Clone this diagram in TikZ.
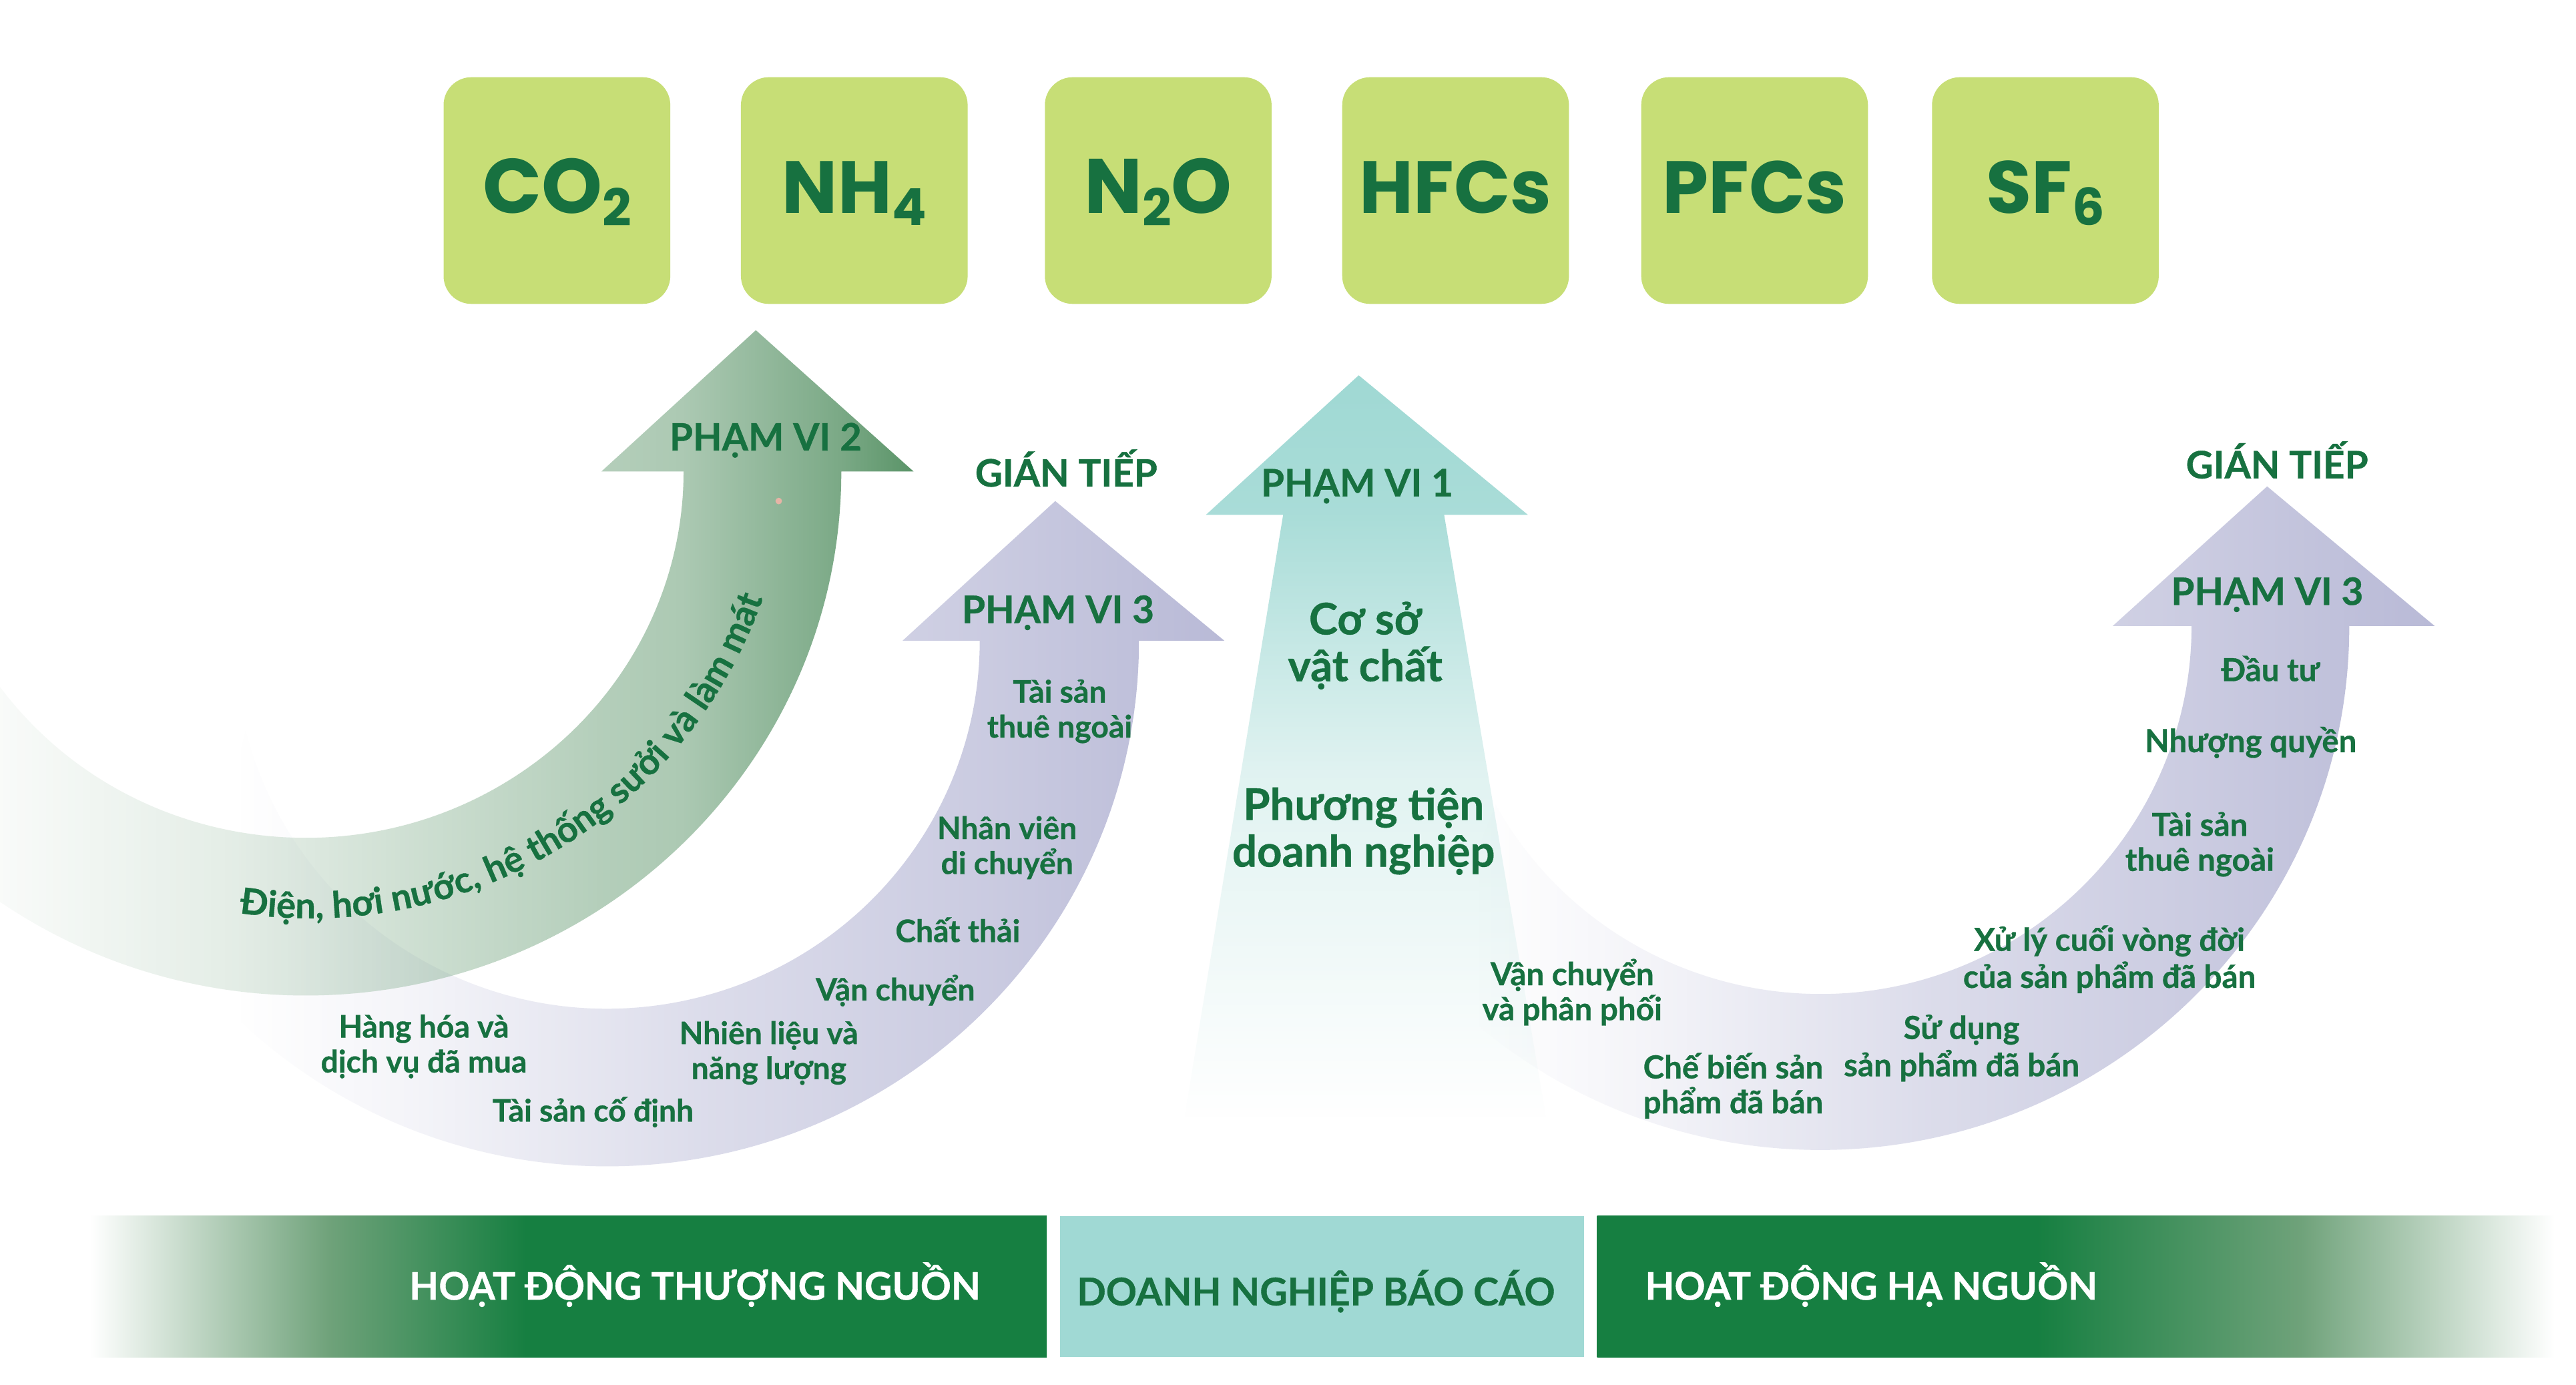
\documentclass[tikz,border=0pt]{standalone}
\usepackage{fontspec}
\setmainfont{Lato}[BoldFeatures={FakeBold=0.7}]
\newfontfamily\ghgfont{Poppins}
\usetikzlibrary{fadings,decorations.text}
\definecolor{dkgreen}{HTML}{177140}
\definecolor{barGreen}{HTML}{167F41}
\definecolor{teal}{HTML}{A0D9D4}
\definecolor{lime}{HTML}{C7DE76}
\definecolor{lav}{HTML}{B9BAD7}
\definecolor{sage}{HTML}{5A9468}
\definecolor{midL}{HTML}{6FA27A}
\definecolor{dotpink}{HTML}{E6B4A6}
% opacity masks: white = opaque, black = clear; 25bp..75bp span the filled shape
\pgfdeclarehorizontalshading{maskGreen}{100bp}{rgb(0bp)=(.03,.03,.03);rgb(25bp)=(.03,.03,.03);rgb(34bp)=(.12,.12,.12);rgb(41.7bp)=(.2,.2,.2);rgb(57.9bp)=(.45,.45,.45);rgb(62.4bp)=(.5,.5,.5);rgb(71bp)=(.8,.8,.8);rgb(75bp)=(1,1,1);rgb(100bp)=(1,1,1)}
\pgfdeclarehorizontalshading{maskLav}{100bp}{rgb(0bp)=(0,0,0);rgb(27.5bp)=(0,0,0);rgb(35.8bp)=(.15,.15,.15);rgb(50bp)=(.5,.5,.5);rgb(63.5bp)=(.75,.75,.75);rgb(75bp)=(1,1,1);rgb(100bp)=(1,1,1)}
\pgfdeclareverticalshading{maskTeal}{100bp}{rgb(0bp)=(0,0,0);rgb(25bp)=(0,0,0);rgb(33.8bp)=(.12,.12,.12);rgb(48.2bp)=(.32,.32,.32);rgb(58.2bp)=(.65,.65,.65);rgb(65.6bp)=(.9,.9,.9);rgb(75bp)=(1,1,1);rgb(100bp)=(1,1,1)}
\pgfdeclarefading{fadeGreen}{\pgfuseshading{maskGreen}}
\pgfdeclarefading{fadeLav}{\pgfuseshading{maskLav}}
\pgfdeclarefading{fadeTeal}{\pgfuseshading{maskTeal}}
\pgfdeclarehorizontalshading{barLeft}{100bp}{color(0bp)=(white);color(25.4bp)=(white);color(37.8bp)=(midL);color(48bp)=(barGreen);color(100bp)=(barGreen)}
\pgfdeclarehorizontalshading{barRight}{100bp}{color(0bp)=(barGreen);color(47.9bp)=(barGreen);color(61.6bp)=(midL);color(74.8bp)=(white);color(100bp)=(white)}
\newcommand{\fs}[1]{\fontsize{#1}{#1}\selectfont}
\newcommand{\sbs}[1]{\raisebox{-.16em}{\fontsize{31}{31}\selectfont #1}}
\tikzset{
  ghg/.style={rounded corners=17pt,fill=lime,minimum width=138pt,minimum height=138pt,inner sep=0pt,text=dkgreen,text height=38pt,text depth=10pt,font=\ghgfont\bfseries\fs{47}},
  ghgn/.style={ghg,font=\ghgfont\bfseries\fs{45}},
  small/.style={text=dkgreen,font=\bfseries\fs{18.8},align=center,inner sep=0pt},
  smallb/.style={text=dkgreen,font=\bfseries\fs{19.3},align=center,inner sep=0pt},
  mid/.style={text=dkgreen,font=\bfseries\fs{26.5},align=center,inner sep=0pt},
  head/.style={text=dkgreen,font=\bfseries\fs{23},inner sep=0pt},
  barlab/.style={font=\bfseries\fs{23.2},inner sep=0pt},
  bar/.style={minimum height=86pt,inner sep=0pt,anchor=north west}
}
\begin{document}
\begin{tikzpicture}[x=1pt,y=-1pt]
\useasboundingbox (0,0) rectangle (1568,843);
\clip (0,0) rectangle (1568,843);
\fill[white] (0,0) rectangle (1568,843);
% gases
\node[ghg] (co2) at (339,116) {CO\sbs{2}};
\node[ghgn] (nh4) at (520,116) {NH\sbs{4}};
\node[ghg] (n2o) at (705,116) {N\sbs{2}O};
\node[ghgn] (hfc) at (886,116) {HFCs};
\node[ghgn] (pfc) at (1068,116) {PFCs};
\node[ghgn] (sf6) at (1245,116) {SF\sbs{6}};
% left scope 3 arrow
\fill[lav,path fading=fadeLav]
  (643,305) -- (746,390) -- (694,390)
  arc[start angle=0,end angle=-142,x radius=324pt,y radius=320pt]
  -- ([shift={(370,390)}]-166:227pt and 224pt)
  arc[start angle=-166,end angle=0,x radius=227pt,y radius=224pt]
  -- (550,390) -- cycle;
% right scope 3 arrow
\fill[lav,path fading=fadeLav]
  (1380,296) -- (1482,381) -- (1430,381)
  arc[start angle=0,end angle=-138,x radius=322pt,y radius=319pt]
  -- ([shift={(1108,381)}]-151:226pt and 224pt)
  arc[start angle=-151,end angle=0,x radius=226pt,y radius=224pt]
  -- (1286,381) -- cycle;
% scope 1 arrow
\fill[teal,path fading=fadeTeal]
  (827,228) -- (930,313) -- (879,313) -- (941,680) -- (721,680) -- (781,313) -- (734,313) -- cycle;
% scope 2 arrow
\fill[sage,path fading=fadeGreen]
  (460,201) -- (556,287) -- (512,287)
  arc[start angle=0,end angle=-126,x radius=326pt,y radius=319pt]
  -- ([shift={(186,287)}]-144:230pt and 223pt)
  arc[start angle=-144,end angle=0,x radius=230pt,y radius=223pt]
  -- (366,287) -- cycle;
\fill[dotpink] (474,305) circle (2pt);
% arced text
\path[decorate,decoration={text along path,text align=center,text color=dkgreen,
  text={|\bfseries\fs{22}|Điện, hơi nước, hệ thống sưởi và làm mát}}]
  ([shift={(189,267)}]-106:292pt and 292pt) arc[start angle=-106,end angle=-12,radius=292pt];
% labels
\node[head] (p2) at (466,268) {PHẠM VI 2};
\node[head] (g1) at (649,285) {GIÁN TIẾP};
\node[head] (p3a) at (644,373) {PHẠM VI 3};
\node[head] (p1) at (826,296) {PHẠM VI 1};
\node[head] (g2) at (1386,280) {GIÁN TIẾP};
\node[head] (p3b) at (1380,362) {PHẠM VI 3};
\node[mid] (m1) at (831,393) {Cơ sở\\[2pt]vật chất};
\node[mid] (m2) at (830,506) {Phương tiện\\[2pt]doanh nghiệp};
\node[small] (a1) at (645,433) {Tài sản\\[2.5pt]thuê ngoài};
\node[small] (a2) at (613,516) {Nhân viên\\[2.5pt]di chuyển};
\node[small] (a3) at (583,566) {Chất thải};
\node[small] (a4) at (545,603) {Vận chuyển};
\node[small] (a5) at (468,641) {Nhiên liệu và\\[2.5pt]năng lượng};
\node[small] (a6) at (361,677) {Tài sản cố định};
\node[small] (a7) at (258,637) {Hàng hóa và\\[2.5pt]dịch vụ đã mua};
\node[smallb] (b1) at (1382,407) {Đầu tư};
\node[smallb] (b2) at (1370,452) {Nhượng quyền};
\node[smallb] (b3) at (1339,514) {Tài sản\\[2pt]thuê ngoài};
\node[smallb] (b4) at (1284,584) {Xử lý cuối vòng đời\\[2pt]của sản phẩm đã bán};
\node[smallb] (b5) at (1194,638) {Sử dụng\\[2pt]sản phẩm đã bán};
\node[smallb] (b6) at (1055,661) {Chế biến sản\\[2pt]phẩm đã bán};
\node[smallb] (b7) at (957,604) {Vận chuyển\\[2pt]và phân phối};
% bottom bars
\node[bar,minimum width=587pt,shading=barLeft] (up) at (50,740) {};
\node[bar,minimum width=319pt,fill=teal] (rep) at (645,740) {};
\node[bar,minimum width=585pt,shading=barRight] (down) at (972,740) {};
\node[barlab,text=white] (l1) at (423,782) {HOẠT ĐỘNG THƯỢNG NGUỒN};
\node[barlab,text=dkgreen] (l2) at (801,786) {DOANH NGHIỆP BÁO CÁO};
\node[barlab,text=white] (l3) at (1139,782) {HOẠT ĐỘNG HẠ NGUỒN};
\end{tikzpicture}
\end{document}
